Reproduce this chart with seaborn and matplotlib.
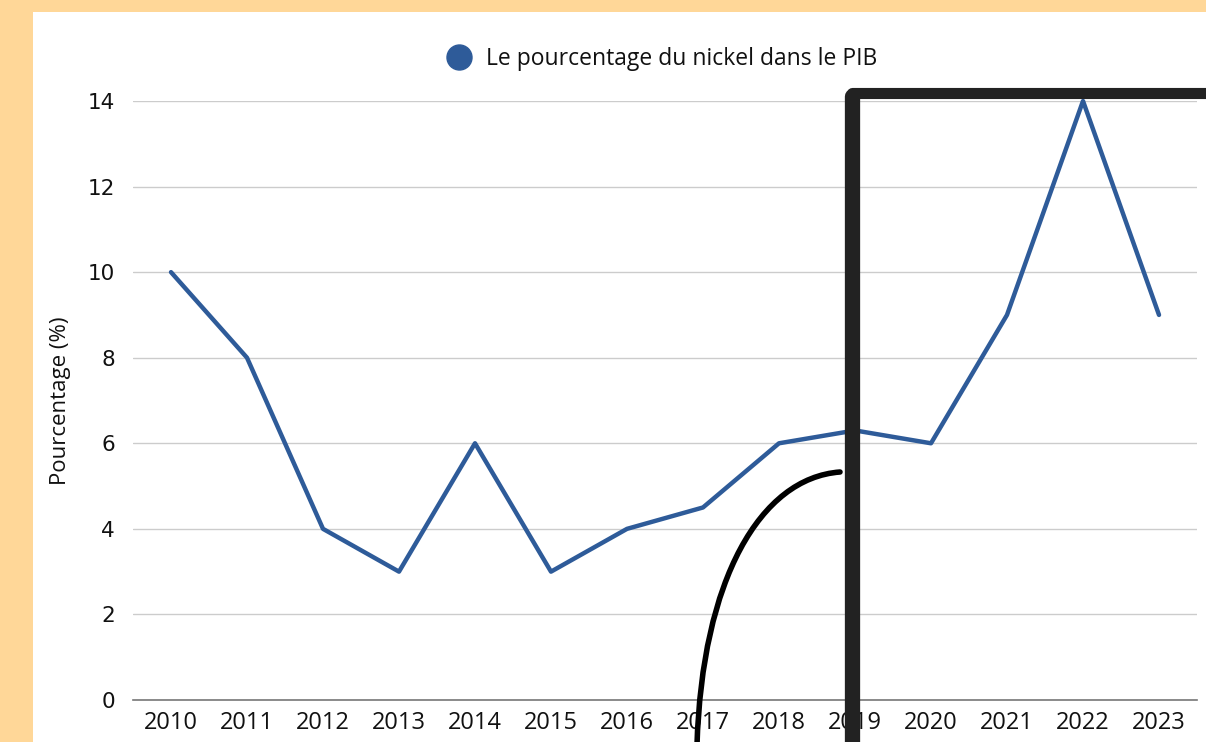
import numpy as np
import pandas as pd
import matplotlib.pyplot as plt
import seaborn as sns
from matplotlib.lines import Line2D
from matplotlib.patches import Rectangle, PathPatch
from matplotlib.path import Path

years = ["2010", "2011", "2012", "2013", "2014", "2015", "2016",
         "2017", "2018", "2019", "2020", "2021", "2022", "2023"]
nickel_pct = [10, 8, 4, 3, 6, 3, 4, 4.5, 6, 6.3, 6, 9, 14, 9]
series_name = "Le pourcentage du nickel dans le PIB"

df = pd.DataFrame({"annee": years, "pct": nickel_pct})

sns.set_theme(style="white")
plt.rcParams['font.family'] = ['Open Sans', 'DejaVu Sans']
plt.rcParams['text.color'] = "#111111"

W, H = 1206, 742
fig = plt.figure(figsize=(W / 100, H / 100), dpi=100, facecolor="#FFD798")

# white card behind the chart
fig.add_artist(Rectangle((33 / W, 0), 1, 1 - 12 / H, transform=fig.transFigure,
                         facecolor="white", edgecolor="none", zorder=0))

ax = fig.add_axes([133 / W, 1 - 700 / H, (1197 - 133) / W, (700 - 101) / H])
ax.set_facecolor("none")

blue = "#2E5B99"
sns.lineplot(data=df, x="annee", y="pct", ax=ax, color=blue, linewidth=3.2,
             sort=False, clip_on=False, legend=False)

ax.set_xlim(-0.5, len(years) - 0.5)
ax.set_ylim(0, 14)
ax.set_yticks(np.arange(0, 15, 2))
ax.yaxis.grid(True, color="#cccccc", linewidth=1)
ax.set_axisbelow(True)
for s in ["top", "right", "left"]:
    ax.spines[s].set_visible(False)
ax.spines["bottom"].set_color("#777777")
ax.spines["bottom"].set_linewidth(1.2)
ax.tick_params(axis="both", length=0, colors="#111111")
ax.tick_params(axis="x", labelsize=17, pad=8)
ax.tick_params(axis="y", labelsize=15.5, pad=13)
for lab in ax.get_yticklabels():
    lab.set_family("DejaVu Sans")
ax.set_xlabel("")
ax.set_ylabel("Pourcentage (%)", fontsize=16, color="#111111", labelpad=12)

handle = Line2D([], [], marker="o", linestyle="none", markersize=18,
                markerfacecolor=blue, markeredgecolor=blue)
fig.legend([handle], [series_name], loc="center", bbox_to_anchor=(0.5445, 0.921),
           frameon=False, fontsize=16.5, handletextpad=0.15)

# hand-drawn black frame and arc overlay
def px(x, y):
    return (x / W, 1 - y / H)

dark = "#222222"
fig.add_artist(Line2D([852 / W, 852 / W], [1 - 96 / H, 0], transform=fig.transFigure,
                      color=dark, linewidth=11, solid_capstyle="round", zorder=10))
fig.add_artist(Line2D([852 / W, 1], [1 - 93 / H, 1 - 93 / H], transform=fig.transFigure,
                      color=dark, linewidth=8, solid_capstyle="round", zorder=10))
arc = Path([px(697, 745), px(702, 580), px(760, 478), px(840, 472)],
           [Path.MOVETO, Path.CURVE4, Path.CURVE4, Path.CURVE4])
fig.add_artist(PathPatch(arc, transform=fig.transFigure, facecolor="none",
                         edgecolor="black", linewidth=4, capstyle="round", zorder=10))

fig.savefig("out.png", dpi=100, facecolor=fig.get_facecolor())
